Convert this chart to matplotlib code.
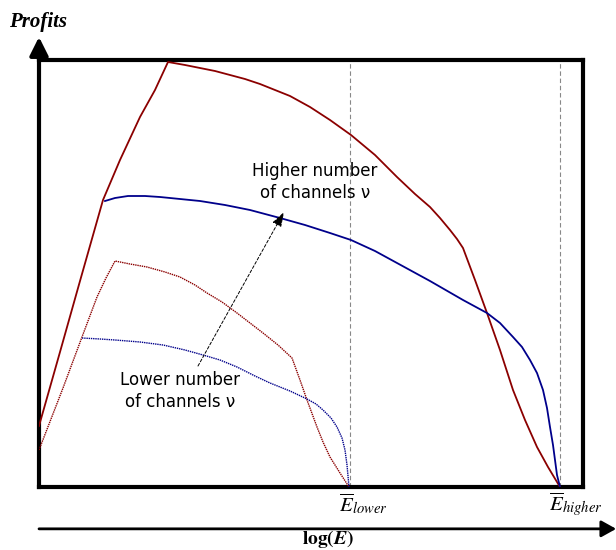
import matplotlib
matplotlib.use("Agg")
import matplotlib.pyplot as plt

plt.rcParams['mathtext.fontset'] = 'stix'

# profit curves, x = log(E), y = profit (arbitrary units)
red_hi_x = [0, 21, 41, 64, 81, 101, 116, 129, 146, 161, 176, 191, 206, 221, 236, 251,
            271, 291, 312, 336, 358, 376, 391, 401, 411, 418, 424,
            436, 448, 461, 474, 486, 498, 509, 521]
red_hi_y = [61, 135, 206, 287, 327, 370, 397, 425, 422, 419, 416, 412, 408, 403, 397, 391,
            380, 367, 352, 332, 310, 293, 280, 269, 257, 248, 239,
            207, 174, 137, 97, 67, 40, 20, 0]

blue_hi_x = [66, 76, 89, 106, 121, 141, 161, 186, 211, 241, 266, 291, 312, 336, 358, 391,
             424, 448, 461, 474, 483, 491, 498, 504, 508, 511, 514, 516, 518, 521]
blue_hi_y = [286, 289, 291, 291, 290, 288, 286, 282, 277, 269, 262, 254, 247, 236, 224, 206,
             187, 174, 164, 150, 140, 127, 114, 97, 79, 60, 42, 27, 12, 0]

red_lo_x = [0, 24, 43, 58, 67, 76, 91, 108, 126, 141, 156, 168, 183, 198, 211, 224, 239,
            253, 261, 268, 278, 284, 291, 301, 310]
red_lo_y = [37, 99, 150, 190, 209, 226, 223, 220, 215, 210, 202, 194, 185, 174, 164, 154, 142,
            129, 107, 87, 60, 45, 30, 14, 0]

blue_lo_x = [43, 61, 76, 101, 124, 146, 164, 181, 198, 216, 231, 251, 268, 277, 284, 292,
             298, 303, 306, 308, 310]
blue_lo_y = [149, 148, 147, 145, 142, 137, 132, 127, 120, 111, 104, 96, 88, 83, 77, 69,
             60, 49, 37, 22, 0]

e_lower = 311
e_higher = 521
x_max = 544
y_max = 427

red = '#8b0000'
blue = '#00008b'

fig = plt.figure(figsize=(6.16, 5.5), dpi=100)
ax = fig.add_axes([39 / 616, 63 / 550, 544 / 616, 427 / 550])
ax.set_xlim(0, x_max)
ax.set_ylim(0, y_max)
ax.set_xticks([])
ax.set_yticks([])
for s in ax.spines.values():
    s.set_linewidth(3)
    s.set_color('black')

# reference lines for the two break-even points
for e in (e_lower, e_higher):
    ax.axvline(e, color='#888888', lw=0.8, ls=(0, (4, 2.5)), zorder=1)

ax.plot(red_hi_x, red_hi_y, color=red, lw=1.3, zorder=3)
ax.plot(blue_hi_x, blue_hi_y, color=blue, lw=1.3, zorder=3)
ax.plot(red_lo_x, red_lo_y, color=red, lw=1.0, ls=(0, (1, 0.6)), zorder=3)
ax.plot(blue_lo_x, blue_lo_y, color=blue, lw=1.0, ls=(0, (1, 0.6)), zorder=3)

# arrow from low to high number of channels
ax.annotate('', xy=(245, 275), xytext=(159, 121),
            arrowprops=dict(arrowstyle='-|>,head_length=0.9,head_width=0.3',
                            color='black', lw=0.7, ls=(0, (3, 2)),
                            shrinkA=0, shrinkB=0))

ax.text(276, 305, 'Higher number\nof channels \u03bd', ha='center', va='center',
        fontsize=12, linespacing=1.25)
ax.text(141, 96, 'Lower number\nof channels \u03bd', ha='center', va='center',
        fontsize=12, linespacing=1.25)

# axis arrows
ax.annotate('', xy=(0, 1.054), xytext=(0, 1.0), xycoords='axes fraction',
            arrowprops=dict(arrowstyle='-|>,head_length=1.1,head_width=0.55',
                            color='black', lw=3, shrinkA=0, shrinkB=0),
            annotation_clip=False)
ax.annotate('', xy=(1.061, -0.098), xytext=(0, -0.098), xycoords='axes fraction',
            arrowprops=dict(arrowstyle='-|>,head_length=0.9,head_width=0.5',
                            color='black', lw=2, shrinkA=0, shrinkB=0),
            annotation_clip=False)

# break-even labels under the box
ax.annotate(r'$\overline{E}_{lower}$', xy=(e_lower, 0), xytext=(-8, -3),
            textcoords='offset points', ha='left', va='top', fontsize=15,
            annotation_clip=False)
ax.annotate(r'$\overline{E}_{higher}$', xy=(e_higher, 0), xytext=(-8, -3),
            textcoords='offset points', ha='left', va='top', fontsize=15,
            annotation_clip=False)

fig.text(9 / 616, 1 - 27 / 550, 'Profits', fontsize=15, fontstyle='italic',
         fontweight='bold', family='Liberation Serif', va='baseline')
fig.text(328 / 616, 1 - 544 / 550, r'$\mathbf{log(}\mathbfit{E}\mathbf{)}$',
         fontsize=14, ha='center', va='baseline')

fig.savefig('out.png', dpi=100)
